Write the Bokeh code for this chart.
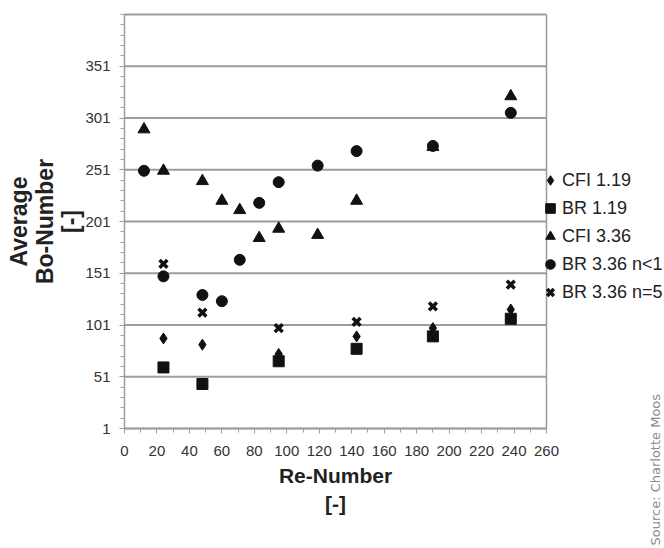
import math
from bokeh.plotting import figure
from bokeh.models import FixedTicker, Legend, LegendItem, Label, Range1d
from bokeh.embed import file_html
from bokeh.resources import INLINE

# ---- data ----
re_cfi119 = [24, 48, 95, 143, 190, 238]
bo_cfi119 = [88, 82, 73, 90, 98, 116]

re_br119 = [24, 48, 95, 143, 190, 238]
bo_br119 = [60, 44, 66, 78, 90, 107]

re_cfi336 = [12, 24, 48, 60, 71, 83, 95, 119, 143, 190, 238]
bo_cfi336 = [290, 250, 240, 221, 212, 185, 194, 188, 221, 273, 322]

re_br336n1 = [12, 24, 48, 60, 71, 83, 95, 119, 143, 190, 238]
bo_br336n1 = [250, 148, 130, 124, 164, 219, 239, 255, 269, 274, 306]

re_br336n5 = [24, 48, 95, 143, 190, 238]
bo_br336n5 = [160, 113, 98, 104, 119, 140]

x_min, x_max = 0, 260
y_min, y_max = 1, 401
x_ticks = list(range(0, 261, 20))
x_minor = list(range(0, 261, 10))
y_ticks = [1, 51, 101, 151, 201, 251, 301, 351]
y_minor = list(range(1, 402, 10))

series_names = ["CFI 1.19", "BR 1.19", "CFI 3.36", "BR 3.36 n<1", "BR 3.36 n=5"]
x_title = "Re-Number\n[-]"
y_title = "Average\nBo-Number\n[-]"
source_text = "Source: Charlotte Moos"

# ---- layout (pixels) ----
W, H = 664, 548
PL, PR, PT, PB = 124, 546, 14, 428        # plot box edges on the canvas

FONT = "Liberation Sans"
GRID = "#9c9c9c"
INK = "#111111"

styles = [
    dict(marker="diamond", size=11, fill_color=INK, line_color=INK),
    dict(marker="square", size=11, fill_color=INK, line_color=INK),
    dict(marker="triangle", size=12, fill_color=INK, line_color=INK),
    dict(marker="circle", size=11, fill_color=INK, line_color=INK),
    dict(marker="x", size=11, line_color=INK, line_width=3.5),
]
series = [(re_cfi119, bo_cfi119), (re_br119, bo_br119), (re_cfi336, bo_cfi336),
          (re_br336n1, bo_br336n1), (re_br336n5, bo_br336n5)]

# the frame covers the whole canvas; ranges are chosen so that the data box
# [0,260]x[1,401] lands on the plot box
kx = (PR - PL) / (x_max - x_min)
ky = (PB - PT) / (y_max - y_min)
xr = Range1d(x_min - PL / kx, x_max + (W - PR) / kx)
yr = Range1d(y_min - (H - PB) / ky, y_max + PT / ky)

p = figure(width=W, height=H, output_backend="svg", toolbar_location=None,
           x_range=xr, y_range=yr,
           min_border=0, min_border_left=0, min_border_right=0,
           min_border_top=0, min_border_bottom=0)
p.outline_line_color = None
p.border_fill_color = "white"
p.background_fill_color = "white"
p.xgrid.visible = False
p.ygrid.visible = False

# horizontal grid lines at the major ticks plus the top edge of the box
grid_y = y_ticks + [y_max]
p.segment(x0=[x_min] * len(grid_y), y0=grid_y, x1=[x_max] * len(grid_y), y1=grid_y,
          line_color=GRID, line_width=2)
# right edge of the plot box
p.segment(x0=[x_max], y0=[y_min], x1=[x_max], y1=[y_max],
          line_color=GRID, line_width=1.5)

# axes drawn at the plot box edges
p.xaxis.fixed_location = y_min
p.yaxis.fixed_location = x_min
p.xaxis.bounds = (x_min, x_max)
p.yaxis.bounds = (y_min, y_max)
p.xaxis.ticker = FixedTicker(ticks=x_ticks, minor_ticks=x_minor)
p.yaxis.ticker = FixedTicker(ticks=y_ticks, minor_ticks=y_minor)

for ax in (p.xaxis, p.yaxis):
    ax.axis_line_color = GRID
    ax.axis_line_width = 1.5
    ax.major_tick_line_color = GRID
    ax.minor_tick_line_color = GRID
    ax.major_tick_in = 0
    ax.major_tick_out = 5
    ax.minor_tick_in = 0
    ax.minor_tick_out = 4
    ax.major_label_text_font = FONT
    ax.major_label_text_font_size = "15px"
    ax.major_label_text_color = "#333333"
p.yaxis.major_label_standoff = 9
p.xaxis.major_label_standoff = 12

renderers = []
for (xs, ys), st in zip(series, styles):
    renderers.append(p.scatter(xs, ys, **st))

legend = Legend(items=[LegendItem(label=n, renderers=[r])
                       for n, r in zip(series_names, renderers)],
                location=(PR - 8, 243), orientation="vertical",
                glyph_width=24, glyph_height=26, label_height=21, spacing=2,
                label_standoff=-5, padding=0, margin=0,
                border_line_color=None, background_fill_alpha=0,
                label_text_font=FONT, label_text_font_size="18px",
                label_text_color="#222222")
p.add_layout(legend)

ylab = Label(x=44, y=H - 221, x_units="screen", y_units="screen",
             text=y_title, angle=math.pi / 2,
             text_font=FONT, text_font_size="23px", text_font_style="bold",
             text_color="#222222", text_align="center", text_baseline="middle",
             text_line_height=1.0)
p.add_layout(ylab)

xlab = Label(x=335, y=H - 489, x_units="screen", y_units="screen",
             text=x_title,
             text_font=FONT, text_font_size="21px", text_font_style="bold",
             text_color="#222222", text_align="center", text_baseline="middle",
             text_line_height=1.25)
p.add_layout(xlab)

src = Label(x=W - 2, y=3, x_units="screen", y_units="screen",
            text=source_text, angle=math.pi / 2,
            text_font="DejaVu Sans", text_font_size="13px",
            text_color="#8c8c8c", text_baseline="bottom", text_align="left")
p.add_layout(src)

open("out.html", "w").write(file_html(p, INLINE))
